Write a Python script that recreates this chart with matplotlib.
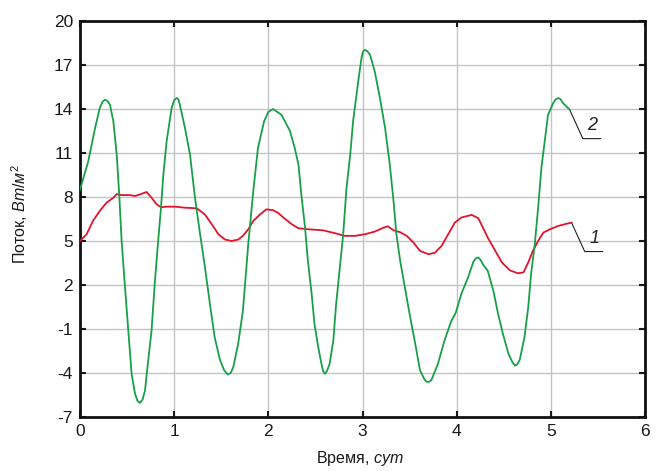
import matplotlib
matplotlib.use("Agg")
import matplotlib.pyplot as plt

# кривая 1 (красная)
t1 = [0, 0.07, 0.14, 0.21, 0.28, 0.354, 0.39, 0.44, 0.53, 0.584, 0.637, 0.708,
      0.76, 0.814, 0.86, 0.92, 1.01, 1.115, 1.24, 1.327, 1.4, 1.47, 1.54, 1.61,
      1.68, 1.73, 1.787, 1.84, 1.91, 1.98, 2.05, 2.1, 2.16, 2.25, 2.32, 2.42,
      2.58, 2.71, 2.81, 2.92, 3.025, 3.13, 3.22, 3.27, 3.33, 3.4, 3.47, 3.54,
      3.61, 3.7, 3.77, 3.84, 3.91, 3.98, 4.05, 4.16, 4.23, 4.28, 4.33, 4.41,
      4.48, 4.565, 4.65, 4.71, 4.76, 4.81, 4.865, 4.92, 4.99, 5.08, 5.17, 5.22]
v1 = [5.0, 5.46, 6.4, 7.05, 7.6, 7.95, 8.2, 8.13, 8.13, 8.07, 8.18, 8.34,
      7.95, 7.5, 7.3, 7.34, 7.34, 7.27, 7.23, 6.8, 6.14, 5.46, 5.1, 5.0,
      5.1, 5.35, 5.8, 6.37, 6.8, 7.16, 7.1, 6.93, 6.6, 6.14, 5.87, 5.8,
      5.73, 5.53, 5.35, 5.35, 5.46, 5.64, 5.9, 6.0, 5.73, 5.6, 5.35, 4.9,
      4.33, 4.1, 4.2, 4.67, 5.46, 6.25, 6.6, 6.78, 6.55, 5.9, 5.23, 4.33,
      3.54, 3.0, 2.8, 2.86, 3.54, 4.33, 5.0, 5.57, 5.8, 6.03, 6.18, 6.25]

# кривая 2 (зеленая)
t2 = [0, 0.088, 0.16, 0.21, 0.24, 0.265, 0.29, 0.318, 0.354, 0.39, 0.418,
      0.442, 0.478, 0.513, 0.548, 0.584, 0.61, 0.637, 0.665, 0.69, 0.725,
      0.76, 0.796, 0.83, 0.86, 0.885, 0.92, 0.973, 1.0, 1.026, 1.045, 1.06,
      1.115, 1.168, 1.22, 1.27, 1.327, 1.38, 1.43, 1.486, 1.53, 1.568, 1.6,
      1.628, 1.68, 1.73, 1.787, 1.84, 1.89, 1.955, 2.0, 2.05, 2.14, 2.23,
      2.28, 2.32, 2.35, 2.39, 2.42, 2.46, 2.49, 2.53, 2.565, 2.58, 2.6, 2.62,
      2.65, 2.69, 2.72, 2.76, 2.795, 2.83, 2.87, 2.9, 2.955, 2.99, 3.005,
      3.025, 3.05, 3.08, 3.13, 3.185, 3.24, 3.29, 3.33, 3.36, 3.4, 3.45, 3.5,
      3.56, 3.61, 3.655, 3.68, 3.705, 3.73, 3.8, 3.87, 3.94, 3.99, 4.05, 4.12,
      4.175, 4.2, 4.23, 4.255, 4.28, 4.33, 4.39, 4.44, 4.49, 4.55, 4.595, 4.62,
      4.645, 4.67, 4.72, 4.76, 4.79, 4.83, 4.865, 4.9, 4.935, 4.97, 5.025,
      5.05, 5.08, 5.105, 5.13, 5.2]
v2 = [8.5, 10.44, 12.7, 14.07, 14.5, 14.63, 14.55, 14.3, 13.16, 10.9, 8.0,
      5.0, 1.84, -1.1, -4.05, -5.4, -5.9, -6.04, -5.8, -5.2, -3.1,
      -1.1, 2.3, 5.0, 7.27, 9.5, 11.8, 14.07, 14.6, 14.75, 14.65, 14.3,
      12.7, 10.9, 8.0, 5.7, 3.2, 0.7, -1.56, -3.1, -3.8, -4.1, -4.0,
      -3.6, -2.0, 0.25, 4.8, 8.4, 11.35, 13.16, 13.8, 14.0, 13.6, 12.5,
      11.35, 10.2, 8.2, 5.9, 3.65, 1.4, -0.65, -2.24, -3.4, -3.85, -4.05, -3.9,
      -3.4, -1.8, 0.7, 3.2, 5.46, 8.6, 10.9, 13.16, 15.9, 17.5, 17.9,
      18.03, 17.95, 17.7, 16.56, 14.75, 12.7, 10.2, 7.7, 5.46, 3.65, 1.84, 0.03,
      -2.0, -3.8, -4.4, -4.6, -4.6, -4.5, -3.4, -1.8, -0.5, 0.1, 1.4, 2.5,
      3.54, 3.8, 3.88, 3.7, 3.4, 2.97, 1.6, 0.03, -1.3, -2.7, -3.3, -3.5,
      -3.4, -3.1, -1.56, 0.48, 2.74, 4.8, 7.27, 10.0, 11.8, 13.6, 14.4,
      14.65, 14.75, 14.65, 14.4, 13.95]

xticks = [0, 1, 2, 3, 4, 5, 6]
yticks = [-7, -4, -1, 2, 5, 8, 11, 14, 17, 20]
curve_labels = ["1", "2"]

plt.rcParams['font.family'] = ['Liberation Sans', 'DejaVu Sans']
plt.rcParams['mathtext.fontset'] = 'custom'
plt.rcParams['mathtext.rm'] = 'Liberation Sans'
plt.rcParams['mathtext.it'] = 'Liberation Sans:italic'

fig = plt.figure(figsize=(6.57, 4.71), dpi=100)
ax = fig.add_axes([80 / 657, 1 - 417 / 471, 565 / 657, 396 / 471])

ax.plot(t1, v1, color='#e0142c', lw=1.3, zorder=3)
ax.plot(t2, v2, color='#18a048', lw=1.3, zorder=3)

ax.set_xlim(0, 6)
ax.set_ylim(-7, 20)
ax.set_xticks(xticks)
ax.set_yticks(yticks)
ax.set_xticklabels([str(v) for v in xticks])
ax.set_yticklabels([str(v) for v in yticks])
ax.grid(True, color='#c4c4c4', lw=1.0)
ax.set_axisbelow(True)
ax.tick_params(direction='in', length=4, width=1.5, top=True, right=True,
               labelsize=12.5, pad=5, colors='#1a1a1a')
for sp in ax.spines.values():
    sp.set_linewidth(2)
    sp.set_color('#111111')

# выноски с номерами кривых
for tt, vv, lab in [(t1, v1, curve_labels[0]), (t2, v2, curve_labels[1])]:
    x0, y0 = tt[-1], vv[-1]
    xk, yk = x0 + 0.14, y0 - 1.97
    ax.plot([x0, xk, xk + 0.19], [y0, yk, yk], color='#222222', lw=0.8,
            clip_on=False)
    ax.text(xk + 0.1, yk + 0.3, lab, fontsize=13, style='italic',
            ha='center', va='bottom', color='#222222')

fig.text(360 / 657, 1 - 463 / 471, r'Время, $\mathit{сут}$', ha='center',
         va='baseline', fontsize=11.5, color='#1a1a1a')
fig.text(20 / 657, 1 - 214 / 471, r'Поток, $\mathit{Вт/м}^2$', ha='center',
         va='center', rotation=90, fontsize=11.5, color='#1a1a1a',
         rotation_mode='anchor')

fig.savefig('out.png', dpi=100, facecolor='white')
